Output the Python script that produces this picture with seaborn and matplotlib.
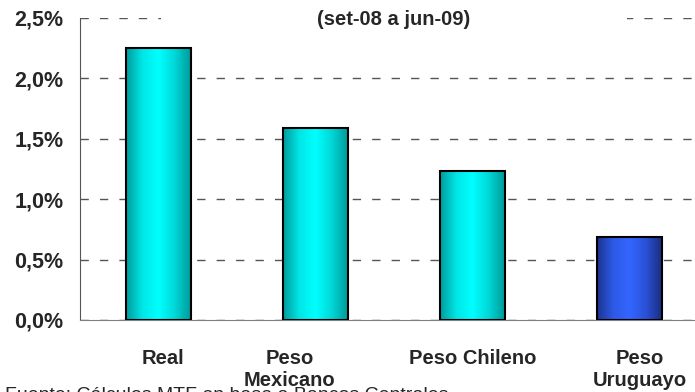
import numpy as np
import pandas as pd
import seaborn as sns
import matplotlib.pyplot as plt
from matplotlib.colors import LinearSegmentedColormap
from matplotlib.ticker import FuncFormatter
from matplotlib.transforms import ScaledTranslation

categorias = ['Real', 'Peso\nMexicano', 'Peso Chileno', 'Peso\nUruguayo']
devaluacion = [2.25, 1.59, 1.23, 0.69]
titulo = 'Depreciación promedio mensual frente al dólar\n(set-08 a jun-09)'
fuente = 'Fuente: Cálculos MTF en base a Bancos Centrales'

df = pd.DataFrame({'moneda': categorias, 'valor': devaluacion})

sns.set_style('white')
plt.rcParams['font.family'] = ['Liberation Sans', 'DejaVu Sans']

fig = plt.figure(figsize=(6.95, 3.92), dpi=100)
ax = fig.add_axes([0.1151, 0.1837, 0.9036, 0.7704])

colores = ['#00e0e0', '#00e0e0', '#00e0e0', '#2a55e0']
sns.barplot(data=df, x='moneda', y='valor', hue='moneda', palette=colores,
            legend=False, width=0.41, edgecolor='black', linewidth=1.5, ax=ax, zorder=3)

# cylinder-like shading on each bar
cmaps = [
    LinearSegmentedColormap.from_list('cyan', ['#009c9c', '#00e6e6', '#00ffff', '#00d8d8', '#009a9a']),
    LinearSegmentedColormap.from_list('blue', ['#1c3490', '#2d5ae6', '#3366ff', '#2a52d8', '#1a2f80']),
]
grad = np.linspace(0, 1, 200).reshape(1, -1)
for i, bar in enumerate(ax.patches):
    x0, y0 = bar.get_x(), bar.get_y()
    w, h = bar.get_width(), bar.get_height()
    cm = cmaps[1] if i == 3 else cmaps[0]
    im = ax.imshow(grad, cmap=cm, aspect='auto', extent=[x0, x0 + w, y0, y0 + h], zorder=3.5)
    im.set_clip_path(bar)
    bar.set_facecolor('none')
    bar.set_zorder(4)

ax.set_xlim(-0.5, 3.5)
ax.set_ylim(0, 2.5)
ax.set_yticks([0, 0.5, 1.0, 1.5, 2.0, 2.5])
ax.yaxis.set_major_formatter(FuncFormatter(lambda v, p: f'{v:.1f}%'.replace('.', ',')))
ax.set_xticks([-0.5, 0.5, 1.5, 2.5, 3.5], minor=False)
ax.set_xticklabels([])
ax.set_xticks([0, 1, 2, 3], minor=True)
ax.set_xticklabels(categorias, minor=True, fontsize=14.5, fontweight='bold', linespacing=1.22)
ax.tick_params(axis='x', which='minor', length=0, pad=21)
ax.tick_params(axis='x', which='major', direction='out', length=6, width=1, color='#333333')
ax.tick_params(axis='y', direction='out', length=6, width=1, color='#333333', labelsize=15.5, pad=6)
for lab in ax.get_yticklabels():
    lab.set_fontweight('bold')

# excel nudged a couple of the wrapped labels sideways
desplaz = [4, -26, 0, 10]
for lab, dx in zip(ax.get_xticklabels(minor=True), desplaz):
    lab.set_transform(lab.get_transform() + ScaledTranslation(dx / 100, 0, fig.dpi_scale_trans))

ax.yaxis.grid(True, linestyle=(0, (6, 8)), color='#555555', linewidth=1, zorder=1)
ax.set_axisbelow(True)
sns.despine(ax=ax, top=True, right=True)
ax.spines['left'].set_color('#555555')
ax.spines['bottom'].set_color('#808080')
ax.set_xlabel('')
ax.set_ylabel('')

fig.text(0.567, 0.925, titulo, ha='center', va='bottom', multialignment='center',
         fontsize=14.5, fontweight='bold', linespacing=1.75,
         bbox=dict(facecolor='white', edgecolor='none', pad=6), zorder=5)
fig.text(0.007, 0.012, fuente, ha='left', va='top', fontsize=14)

fig.savefig('out.png', dpi=100)
